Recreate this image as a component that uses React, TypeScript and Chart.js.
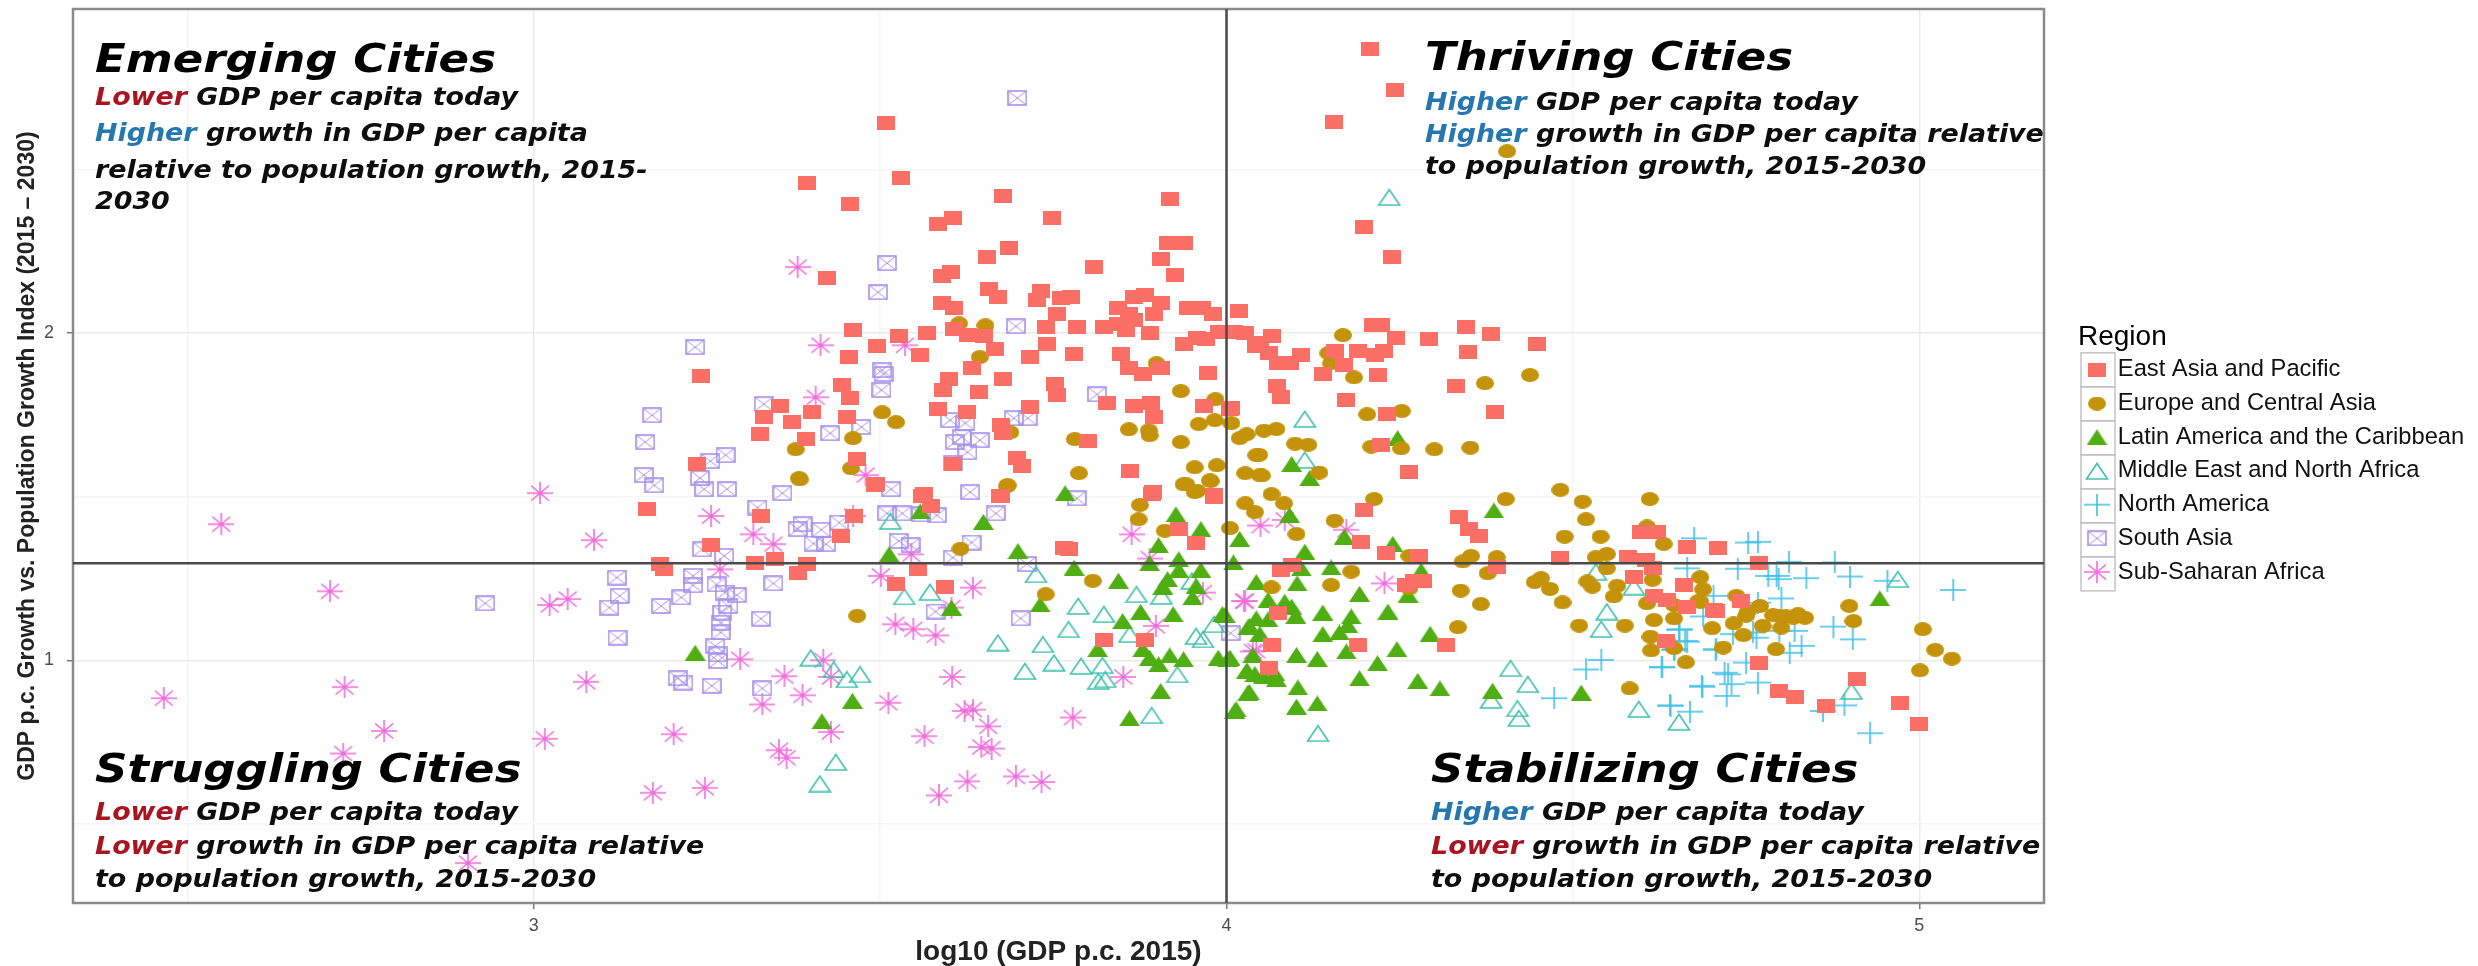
import React, { useEffect, useRef } from "react";
import { Chart, registerables } from "chart.js";

Chart.register(...registerables);

type P = [number, number];

const X_RANGE: P = [2.335, 5.18];
const Y_RANGE: P = [0.258, 2.991];
const REF_X = 4;
const REF_Y = 1.297;

const regionNames = [
  "East Asia and Pacific",
  "Europe and Central Asia",
  "Latin America and the Caribbean",
  "Middle East and North Africa",
  "North America",
  "South Asia",
  "Sub-Saharan Africa",
];

const eastAsia: P[] = [
  [4.207,2.868],[4.243,2.744],[4.155,2.647],[4.198,2.324],[4.239,2.232],[3.509,2.643],[3.395,2.459],[3.53,2.473],[3.457,2.396],[3.677,2.42],
  [3.918,2.411],[3.748,2.353],[3.584,2.333],[3.605,2.353],[3.686,2.261],[3.655,2.232],[3.423,2.169],[3.809,2.203],[3.905,2.227],[3.916,2.275],
  [3.939,2.275],[3.925,2.179],[3.589,2.174],[3.602,2.188],[3.657,2.135],[3.67,2.111],[3.732,2.13],[3.727,2.101],[3.761,2.106],[3.775,2.111],
  [3.755,2.058],[3.589,2.092],[3.607,2.077],[3.843,2.077],[3.866,2.111],[3.882,2.116],[3.905,2.092],[3.895,2.058],[3.859,2.058],[3.866,2.039],
  [3.461,2.01],[3.607,2.014],[3.627,1.995],[3.65,1.99],[3.527,1.99],[3.568,2.0],[3.739,2.019],[3.784,2.019],[3.823,2.019],[3.843,2.029],
  [3.855,2.01],[3.889,2.0],[3.495,1.961],[3.455,1.928],[3.557,1.932],[3.666,1.952],[3.741,1.966],[3.716,1.928],[3.78,1.937],[3.848,1.937],
  [3.632,1.894],[3.859,1.894],[3.905,1.894],[4.018,2.068],[3.945,2.077],[3.964,2.077],[3.98,2.058],[3.939,1.966],[3.957,1.986],[3.97,1.981],
  [3.989,2.005],[4.011,2.005],[4.027,2.0],[4.043,1.961],[3.88,1.874],[3.973,1.879],[3.677,1.86],[3.643,1.821],[3.752,1.845],[3.755,1.812],
  [3.827,1.787],[3.866,1.778],[3.891,1.787],[3.895,1.744],[3.968,1.778],[4.005,1.768],[3.716,1.773],[3.625,1.758],[3.675,1.72],[3.677,1.696],
  [3.8,1.671],[3.698,1.618],[3.705,1.594],[3.861,1.58],[3.673,1.502],[3.893,1.507],[3.982,1.498],[3.241,1.87],[3.445,1.841],[3.457,1.802],
  [3.355,1.778],[3.332,1.744],[3.373,1.729],[3.402,1.758],[3.452,1.744],[3.327,1.691],[3.393,1.676],[3.584,1.768],[3.591,1.826],[3.6,1.86],
  [3.236,1.599],[3.466,1.614],[3.493,1.536],[3.605,1.599],[3.561,1.502],[4.048,1.969],[4.065,1.99],[4.062,1.939],[4.074,1.91],[4.091,1.91],
  [4.108,1.934],[4.073,1.837],[4.078,1.804],[4.156,1.944],[4.17,1.903],[4.14,1.876],[4.19,1.944],[4.214,1.934],[4.228,1.947],[4.245,1.985],
  [4.211,2.025],[4.223,2.025],[4.293,1.983],[4.346,2.02],[4.382,1.998],[4.448,1.967],[4.348,1.942],[4.219,1.873],[4.331,1.84],[4.173,1.796],
  [4.232,1.752],[4.387,1.76],[4.263,1.577],[4.007,1.771],[4.223,1.659],[4.198,1.458],[4.335,1.439],[4.35,1.401],[4.365,1.38],[4.194,1.363],
  [4.23,1.327],[4.278,1.319],[4.094,1.292],[4.079,1.276],[4.482,1.312],[4.271,1.241],[4.283,1.241],[4.259,1.23],[4.391,1.286],[4.579,1.315],
  [4.605,1.307],[4.615,1.281],[4.588,1.256],[4.599,1.393],[4.622,1.393],[4.665,1.346],[4.71,1.343],[4.66,1.23],[4.617,1.195],[4.636,1.185],
  [4.665,1.164],[4.703,1.154],[4.635,1.06],[4.074,1.144],[4.065,1.047],[4.19,1.047],[4.317,1.047],[4.062,0.976],[4.768,1.296],[4.707,1.151],
  [4.743,1.181],[4.769,0.991],[4.797,0.906],[4.821,0.889],[4.866,0.86],[4.91,0.944],[4.972,0.869],[4.999,0.804],[3.164,1.464],[3.328,1.441],
  [3.256,1.352],[3.182,1.294],[3.188,1.28],[3.32,1.296],[3.349,1.311],[3.394,1.294],[3.382,1.268],[3.463,1.441],[3.443,1.38],[3.494,1.538],
  [3.563,1.508],[3.574,1.472],[3.675,1.503],[3.894,1.515],[3.982,1.505],[3.765,1.344],[3.773,1.339],[3.555,1.278],[3.523,1.232],[3.593,1.225],
  [3.823,1.062],[3.882,1.062],[3.932,1.401],[3.956,1.36],
];

const europe: P[] = [
  [4.405,2.556],[4.168,1.994],[4.147,1.939],[4.151,1.908],[4.184,1.865],[4.373,1.847],[4.438,1.872],[3.614,2.03],[3.652,2.024],[3.644,1.927],
  [3.899,1.908],[3.934,1.823],[3.984,1.798],[3.983,1.734],[3.96,1.722],[4.007,1.725],[3.859,1.706],[3.888,1.703],[3.889,1.688],[3.934,1.667],
  [4.019,1.679],[4.029,1.691],[3.781,1.676],[3.688,1.697],[4.043,1.627],[3.986,1.596],[3.954,1.59],[3.976,1.55],[3.938,1.538],[3.954,1.514],
  [4.027,1.572],[4.048,1.566],[3.787,1.572],[3.683,1.532],[4.203,1.752],[4.253,1.762],[4.054,1.702],[4.072,1.707],[4.099,1.662],[4.118,1.659],
  [4.047,1.628],[4.051,1.565],[4.134,1.574],[4.209,1.653],[4.252,1.648],[4.3,1.645],[4.352,1.65],[4.065,1.508],[4.027,1.48],[4.041,1.453],
  [4.083,1.48],[4.213,1.493],[4.403,1.493],[4.482,1.521],[4.514,1.485],[4.519,1.431],[4.611,1.493],[4.005,1.404],[4.101,1.386],[4.156,1.427],
  [4.488,1.378],[4.54,1.378],[4.607,1.409],[4.631,1.356],[4.341,1.302],[4.353,1.319],[4.264,1.319],[4.39,1.315],[4.377,1.266],[4.18,1.271],
  [4.151,1.23],[4.065,1.223],[4.264,1.22],[4.338,1.213],[4.367,1.172],[4.334,1.101],[4.454,1.251],[4.445,1.239],[4.467,1.218],[4.485,1.177],
  [4.509,1.106],[4.575,1.106],[4.582,0.914],[4.533,1.315],[4.549,1.325],[4.549,1.281],[4.521,1.241],[4.528,1.225],[4.564,1.228],[4.559,1.195],
  [4.615,1.246],[4.607,1.174],[4.617,1.123],[4.646,1.169],[4.646,1.128],[4.612,1.072],[4.613,1.03],[4.646,1.037],[4.663,0.994],[4.684,1.254],
  [4.684,1.179],[4.701,1.098],[4.688,1.217],[4.681,1.181],[4.736,1.197],[4.753,1.151],[4.75,1.136],[4.77,1.166],[4.732,1.113],[4.774,1.105],
  [4.746,1.077],[4.717,1.039],[4.793,1.034],[4.789,1.138],[4.798,1.136],[4.808,1.134],[4.818,1.13],[4.825,1.141],[4.835,1.13],[4.801,1.1],
  [4.899,1.166],[4.905,1.12],[5.005,1.095],[5.023,1.032],[5.047,1.005],[5.001,0.969],[3.384,1.553],[3.684,1.536],[3.875,1.475],[3.873,1.431],
  [3.911,1.396],[3.942,1.538],[3.958,1.518],[3.977,1.548],[3.616,1.341],[3.739,1.202],[3.807,1.243],[3.467,1.136],[3.503,1.758],[3.523,1.728],
  [3.461,1.679],[3.378,1.645],[3.458,1.587],[3.383,1.557],
];

const latinAmerica: P[] = [
  [4.247,1.679],[4.094,1.6],[4.12,1.557],[4.091,1.444],[4.019,1.371],[4.17,1.378],[4.24,1.356],[4.113,1.332],[4.01,1.299],[4.151,1.284],
  [4.108,1.281],[4.386,1.458],[4.281,1.274],[4.043,1.239],[4.102,1.235],[4.192,1.203],[4.262,1.2],[4.06,1.185],[4.084,1.179],[4.094,1.164],
  [4.1,1.136],[4.139,1.146],[4.18,1.134],[4.233,1.149],[3.998,1.139],[4.043,1.128],[4.06,1.125],[4.031,1.101],[4.048,1.081],[4.139,1.08],
  [4.163,1.085],[4.175,1.108],[4.294,1.081],[4.173,1.027],[4.101,1.016],[4.131,1.004],[4.246,1.034],[4.002,1.004],[4.038,1.016],[4.218,0.991],
  [4.029,0.968],[4.041,0.958],[4.053,0.952],[4.07,0.96],[4.072,0.943],[4.192,0.945],[4.103,0.917],[4.276,0.937],[4.308,0.914],[4.031,0.901],
  [4.101,0.858],[4.131,0.868],[4.012,0.846],[4.384,0.907],[4.512,0.901],[4.943,1.189],[3.767,1.511],[3.558,1.455],[3.649,1.423],[3.927,1.446],
  [3.963,1.401],[3.902,1.352],[3.699,1.334],[3.931,1.309],[3.513,1.324],[3.889,1.297],[3.78,1.283],[3.931,1.276],[3.963,1.276],[3.844,1.243],
  [3.915,1.248],[3.908,1.225],[3.956,1.227],[3.951,1.192],[3.731,1.171],[3.603,1.161],[3.876,1.148],[3.923,1.141],[3.994,1.141],[3.85,1.12],
  [4.033,1.105],[3.233,1.023],[3.814,1.034],[3.879,1.034],[3.889,1.008],[3.902,0.988],[3.918,1.015],[3.938,1.003],[3.988,1.008],[4.005,1.008],
  [4.03,0.967],[3.905,0.906],[4.033,0.903],[3.46,0.876],[3.416,0.814],[3.86,0.823],[4.014,0.85],
];

const middleEast: P[] = [
  [4.235,2.416],[4.113,1.738],[4.113,1.613],[4.533,1.271],[4.588,1.225],[4.549,1.149],[4.541,1.096],[4.41,0.976],[4.435,0.927],[4.382,0.879],
  [4.42,0.853],[4.422,0.823],[4.132,0.777],[4.595,0.851],[4.653,0.812],[4.969,1.248],[4.902,0.906],[3.515,1.426],[3.725,1.263],[3.535,1.195],
  [3.572,1.209],[3.786,1.166],[3.823,1.141],[3.772,1.095],[3.67,1.054],[3.735,1.049],[3.87,1.202],[3.906,1.197],[3.95,1.243],[3.86,1.08],
  [3.956,1.074],[3.966,1.064],[3.982,1.11],[3.709,0.967],[3.751,0.993],[3.79,0.983],[3.821,0.985],[3.815,0.937],[3.825,0.942],[3.929,0.957],
  [3.892,0.832],[3.4,1.008],[3.433,0.972],[3.452,0.942],[3.471,0.957],[3.436,0.689],[3.413,0.623],
];

const northAmerica: P[] = [
  [4.473,0.884],[4.519,0.972],[4.541,1.001],[4.629,0.978],[4.641,0.861],[4.669,0.843],[4.687,0.919],[4.665,1.281],[4.675,1.373],[4.653,1.093],
  [4.665,1.057],[4.646,1.032],[4.706,1.032],[4.753,1.36],[4.767,1.362],[4.738,1.28],[4.812,1.301],[4.878,1.299],[4.837,1.251],[4.9,1.256],
  [4.782,1.258],[4.794,1.258],[4.797,1.248],[4.954,1.243],[5.049,1.215],[4.801,1.189],[4.767,1.176],[4.688,1.134],[4.703,1.197],[4.876,1.103],
  [4.904,1.064],[4.82,1.09],[4.798,1.09],[4.76,1.085],[4.765,1.069],[4.731,1.08],[4.654,1.095],[4.662,1.059],[4.647,1.034],[4.707,1.034],
  [4.83,1.044],[4.813,1.023],[4.628,0.98],[4.75,0.993],[4.719,0.962],[4.724,0.957],[4.729,0.927],[4.767,0.932],[4.686,0.922],[4.722,0.891],
  [4.64,0.862],[4.861,0.845],[4.892,0.862],[4.929,0.777],
];

const southAsia: P[] = [
  [3.698,2.719],[3.51,2.214],[3.497,2.125],[3.696,2.021],[3.503,1.887],[3.813,1.813],[3.693,1.74],[3.713,1.74],[3.644,1.673],[3.623,1.725],
  [3.618,1.682],[3.626,1.636],[3.63,1.514],[3.784,1.495],[3.233,1.957],[3.505,1.875],[3.502,1.826],[3.171,1.749],[3.161,1.667],[3.332,1.783],
  [3.428,1.694],[3.473,1.713],[3.601,1.734],[3.608,1.667],[3.277,1.627],[3.255,1.609],[3.159,1.566],[3.174,1.535],[3.24,1.557],[3.246,1.523],
  [3.279,1.523],[3.359,1.511],[3.516,1.523],[3.605,1.602],[3.323,1.467],[3.667,1.449],[3.51,1.449],[3.532,1.449],[3.582,1.443],[3.559,1.446],
  [3.388,1.416],[3.381,1.401],[3.415,1.399],[3.441,1.421],[3.404,1.357],[3.422,1.355],[3.527,1.365],[3.544,1.352],[3.632,1.36],[3.243,1.339],
  [3.275,1.319],[3.605,1.314],[3.712,1.294],[3.12,1.253],[3.23,1.258],[3.23,1.229],[3.264,1.232],[3.346,1.235],[3.276,1.207],[3.293,1.199],
  [3.124,1.197],[3.213,1.192],[3.184,1.166],[3.109,1.161],[3.281,1.166],[3.272,1.146],[3.328,1.127],[3.27,1.115],[3.27,1.085],[3.58,1.149],
  [3.703,1.128],[3.121,1.069],[3.262,1.044],[3.266,1.018],[3.266,0.998],[3.208,0.945],[3.216,0.932],[3.257,0.922],[3.33,0.914],[4.006,1.083],
  [2.93,1.174],
];

const subSaharan: P[] = [
  [2.549,1.416],[2.706,1.211],[2.727,0.918],[2.784,0.784],[2.725,0.715],[3.016,0.76],[2.466,0.884],[3.076,0.934],[3.202,0.774],[3.172,0.595],
  [3.247,0.61],[2.905,0.38],[3.298,1.003],[3.362,0.951],[3.388,0.893],[3.33,0.865],[3.418,1.0],[3.429,0.949],[3.429,0.781],[3.354,0.725],
  [3.365,0.702],[3.512,0.87],[3.564,0.768],[3.604,0.949],[3.622,0.845],[3.634,0.849],[3.656,0.798],[3.646,0.735],[3.661,0.73],[3.585,0.587],
  [3.626,0.63],[3.696,0.645],[3.733,0.628],[3.778,0.825],[3.851,0.949],[3.009,1.511],[3.087,1.367],[3.256,1.441],[3.317,1.385],[3.346,1.355],
  [3.461,1.441],[3.269,1.278],[3.049,1.187],[3.501,1.258],[3.545,1.324],[3.634,1.222],[3.522,1.11],[3.548,1.095],[3.58,1.076],[3.603,1.161],
  [3.863,1.385],[3.889,1.311],[3.898,1.105],[3.966,1.207],[4.027,1.181],[4.043,1.029],[3.414,1.963],[3.536,1.963],[3.407,1.804],[3.479,1.566],
  [3.381,2.202],[4.049,1.412],[4.084,1.429],[4.173,1.399],[4.228,1.235],[4.025,1.181],[4.038,1.027],[3.023,1.169],
];

const regionSeries: P[][] = [eastAsia, europe, latinAmerica, middleEast, northAmerica, southAsia, subSaharan];

const xTickLabels = [3, 4, 5];
const yTickLabels = [1, 2];

const xTitle = "log10 (GDP p.c. 2015)";
const yTitle = "GDP p.c. Growth vs. Population Growth Index (2015 \u2013 2030)";
const legendTitle = "Region";

type Run = [string, "low" | "high" | ""];
type Note = { left: number; titleTop: number; title: string; lineTops: number[]; lines: Run[][] };

const notes: Note[] = [
  {
    left: 95, titleTop: 37, title: "Emerging Cities", lineTops: [83, 119, 156, 187],
    lines: [
      [["Lower", "low"], [" GDP per capita today", ""]],
      [["Higher", "high"], [" growth in GDP per capita", ""]],
      [["relative to population growth, 2015-", ""]],
      [["2030", ""]],
    ],
  },
  {
    left: 1425, titleTop: 35, title: "Thriving Cities", lineTops: [88, 120, 152],
    lines: [
      [["Higher", "high"], [" GDP per capita today", ""]],
      [["Higher", "high"], [" growth in GDP per capita relative", ""]],
      [["to population growth, 2015-2030", ""]],
    ],
  },
  {
    left: 95, titleTop: 747, title: "Struggling Cities", lineTops: [798, 832, 865],
    lines: [
      [["Lower", "low"], [" GDP per capita today", ""]],
      [["Lower", "low"], [" growth in GDP per capita relative", ""]],
      [["to population growth, 2015-2030", ""]],
    ],
  },
  {
    left: 1431, titleTop: 747, title: "Stabilizing Cities", lineTops: [798, 832, 865],
    lines: [
      [["Higher", "high"], [" GDP per capita today", ""]],
      [["Lower", "low"], [" growth in GDP per capita relative", ""]],
      [["to population growth, 2015-2030", ""]],
    ],
  },
];

const PANEL = { left: 73, top: 9, right: 2044, bottom: 903 };
const LEGEND_BOX = { left: 2078, top: 323, frameInset: 7, frameWidth: 34, rowHeight: 34 };
const colors = ["#fb6f66", "#c4930a", "#4fae12", "#42c2ae", "#3fc0e6", "#a592ea", "#f26cdc"];

function sprite(w: number, h: number, draw: (c: CanvasRenderingContext2D) => void): HTMLCanvasElement {
  const cv = document.createElement("canvas");
  cv.width = w;
  cv.height = h;
  const c = cv.getContext("2d")!;
  draw(c);
  return cv;
}

function makeMarkers(): HTMLCanvasElement[] {
  const lw = 1.6;
  return [
    sprite(18, 14, (c) => { c.fillStyle = colors[0]; c.fillRect(0, 0, 18, 14); }),
    sprite(18, 14, (c) => { c.fillStyle = colors[1]; c.beginPath(); c.ellipse(9, 7, 9, 7, 0, 0, 7); c.fill(); }),
    sprite(21, 16, (c) => { c.fillStyle = colors[2]; c.beginPath(); c.moveTo(10.5, 0); c.lineTo(21, 16); c.lineTo(0, 16); c.closePath(); c.fill(); }),
    sprite(24, 18, (c) => { c.strokeStyle = colors[3]; c.lineWidth = lw; c.beginPath(); c.moveTo(12, 1.5); c.lineTo(22.5, 17); c.lineTo(1.5, 17); c.closePath(); c.stroke(); }),
    sprite(26, 22, (c) => { c.strokeStyle = colors[4]; c.lineWidth = lw; c.beginPath(); c.moveTo(0, 11); c.lineTo(26, 11); c.moveTo(13, 0); c.lineTo(13, 22); c.stroke(); }),
    sprite(20, 16, (c) => {
      c.strokeStyle = colors[5]; c.lineWidth = lw; c.strokeRect(1, 1, 18, 14);
      c.lineWidth = 1; c.beginPath(); c.moveTo(1, 1); c.lineTo(19, 15); c.moveTo(19, 1); c.lineTo(1, 15); c.stroke();
    }),
    sprite(26, 22, (c) => {
      c.strokeStyle = colors[6]; c.lineWidth = lw; c.beginPath();
      c.moveTo(0, 11); c.lineTo(26, 11); c.moveTo(13, 0); c.lineTo(13, 22);
      c.moveTo(4, 3.5); c.lineTo(22, 18.5); c.moveTo(22, 3.5); c.lineTo(4, 18.5); c.stroke();
    }),
  ];
}

const framePlugin = {
  id: "frames",
  afterLayout(chart: any) {
    const lg = chart.legend;
    if (lg) {
      const dx = LEGEND_BOX.left - lg.left;
      lg.left += dx;
      lg.right += dx;
      const dy = LEGEND_BOX.top - lg.top;
      lg.top += dy;
      lg.bottom += dy;
    }
  },
  beforeDatasetsDraw(chart: any) {
    const { ctx, chartArea: a } = chart;
    ctx.save();
    ctx.strokeStyle = "#8a8a8a";
    ctx.lineWidth = 2.5;
    ctx.strokeRect(a.left, a.top, a.right - a.left, a.bottom - a.top);
    ctx.restore();
  },
  afterDraw(chart: any) {
    const lg = chart.legend;
    if (!lg) return;
    const { ctx } = chart;
    ctx.save();
    ctx.strokeStyle = "#c4c4c4";
    ctx.lineWidth = 1.5;
    const labels = lg.options.labels;
    const first = lg.top + lg._computeTitleHeight() + labels.padding + labels.font.size / 2;
    const left = lg.left + labels.padding - LEGEND_BOX.frameInset;
    regionNames.forEach((_, i) => {
      const cy = first + i * LEGEND_BOX.rowHeight;
      ctx.strokeRect(left, cy - LEGEND_BOX.rowHeight / 2, LEGEND_BOX.frameWidth, LEGEND_BOX.rowHeight);
    });
    ctx.restore();
  },
};

export default function App() {
  const ref = useRef<HTMLCanvasElement>(null);

  useEffect(() => {
    const markers = makeMarkers();
    const major = (v: number, list: number[]) => list.includes(v);
    const lineStyle = { showLine: true, pointRadius: 0, borderColor: "#4a4a4a", borderWidth: 2.5, fill: false };
    const chart = new Chart(ref.current!, {
      type: "scatter",
      data: {
        datasets: [
          { label: "refV", data: [{ x: REF_X, y: Y_RANGE[0] }, { x: REF_X, y: Y_RANGE[1] }], ...lineStyle },
          { label: "refH", data: [{ x: X_RANGE[0], y: REF_Y }, { x: X_RANGE[1], y: REF_Y }], ...lineStyle },
          ...regionSeries.map((pts, i) => ({
            label: regionNames[i],
            data: pts.map(([x, y]) => ({ x, y })),
            pointStyle: markers[i],
            pointRadius: 6,
            borderColor: colors[i],
            backgroundColor: colors[i],
            showLine: false,
          })),
        ],
      } as any,
      options: {
        responsive: false,
        animation: false,
        devicePixelRatio: 1,
        layout: { padding: { left: 0, top: PANEL.top, right: 10, bottom: 0 } },
        plugins: {
          tooltip: { enabled: false },
          legend: {
            position: "right",
            align: "start",
            title: { display: true, text: legendTitle, position: "start", color: "#000", font: { family: "Liberation Sans", size: 28, lineHeight: 0.893 }, padding: 0 },
            labels: {
              usePointStyle: true,
              pointStyleWidth: 18,
              boxHeight: 24,
              padding: 10,
              color: "#111",
              font: { family: "Liberation Sans", size: 23.7 },
              filter: (item: any) => regionNames.includes(item.text),
            },
          },
        },
        scales: {
          x: {
            type: "linear",
            min: X_RANGE[0],
            max: X_RANGE[1],
            afterFit: (s: any) => { s.height = 966 - PANEL.bottom; s.paddingLeft = 0; s.paddingRight = 0; },
            border: { display: false },
            grid: {
              drawTicks: true,
              tickLength: 6,
              color: (c: any) => (major(c.tick.value, xTickLabels) ? "#ebebeb" : "#f6f6f6"),
              tickColor: (c: any) => (major(c.tick.value, xTickLabels) ? "#7a7a7a" : "rgba(0,0,0,0)"),
              lineWidth: 1.5,
            },
            ticks: {
              stepSize: 0.5,
              autoSkip: false,
              includeBounds: false,
              maxRotation: 0,
              padding: 6,
              color: "#4d4d4d",
              font: { family: "Liberation Sans", size: 18 },
              callback: (v: any) => (xTickLabels.includes(v) ? String(v) : ""),
            },
            title: { display: true, text: xTitle, color: "#222", font: { family: "Liberation Sans", size: 28, weight: "bold" }, padding: { top: 0, bottom: -3 } },
          },
          y: {
            type: "linear",
            min: Y_RANGE[0],
            max: Y_RANGE[1],
            afterFit: (s: any) => { s.width = PANEL.left; s.paddingTop = 0; s.paddingBottom = 0; },
            border: { display: false },
            grid: {
              tickLength: 6,
              color: (c: any) => (major(c.tick.value, yTickLabels) ? "#ebebeb" : "#f6f6f6"),
              tickColor: (c: any) => (major(c.tick.value, yTickLabels) ? "#7a7a7a" : "rgba(0,0,0,0)"),
              lineWidth: 1.5,
            },
            ticks: {
              stepSize: 0.5,
              autoSkip: false,
              includeBounds: false,
              padding: 13,
              color: "#4d4d4d",
              font: { family: "Liberation Sans", size: 18 },
              callback: (v: any) => (yTickLabels.includes(v) ? String(v) : ""),
            },
            title: { display: true, text: yTitle, color: "#222", font: { family: "Liberation Sans", size: 23, weight: "bold" }, padding: { top: 14, bottom: 0 } },
          },
        },
      } as any,
      plugins: [framePlugin],
    });
    const o: any = chart.options;
    o.layout.padding.right += chart.chartArea.right - PANEL.right;
    chart.update();
    return () => chart.destroy();
  }, []);

  const runColor = (k: string) => (k === "low" ? "#a81420" : k === "high" ? "#2577b0" : "#0d0d0d");
  const base: React.CSSProperties = { position: "absolute", fontFamily: "DejaVu Sans", fontWeight: "bold", fontStyle: "italic", whiteSpace: "pre", transformOrigin: "left center" };

  return (
    <div style={{ position: "fixed", left: 0, top: 0, width: 2478, height: 966, background: "#fff", overflow: "hidden" }}>
      <canvas ref={ref} width={2478} height={966} style={{ position: "absolute", left: 0, top: 0, width: 2478, height: 966 }} />
      {notes.map((n) => (
        <React.Fragment key={n.title}>
          <div style={{ ...base, left: n.left, top: n.titleTop, fontSize: 39, lineHeight: "44px", color: "#000", transform: "scaleX(1.155)" }}>
            {n.title}
          </div>
          {n.lines.map((runs, i) => (
            <div key={i} style={{ ...base, left: n.left, top: n.lineTops[i], fontSize: 24, lineHeight: "28px", color: "#0d0d0d", transform: "scaleX(1.12)" }}>
              {runs.map(([t, k], j) => (
                <span key={j} style={{ color: runColor(k) }}>{t}</span>
              ))}
            </div>
          ))}
        </React.Fragment>
      ))}
    </div>
  );
}
